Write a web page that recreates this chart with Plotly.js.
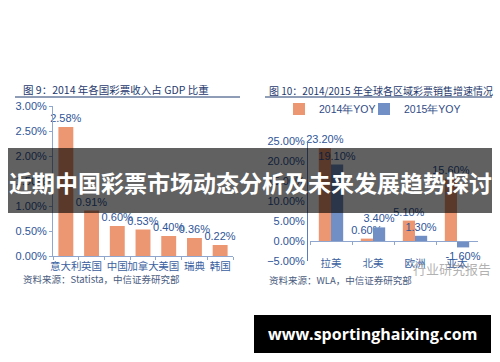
<!DOCTYPE html>
<html><head><meta charset="utf-8">
<script src="https://cdn.plot.ly/plotly-3.0.1.min.js"></script>
<style>html,body{margin:0;padding:0;background:#fff}#chart{width:500px;height:362px}</style>
</head><body><div id="chart"></div>
<script>
// Left chart data
const countries = ['意大利','英国','中国','加拿大','美国','瑞典','韩国'];
const gdpShare = [0.0258, 0.0091, 0.0060, 0.0053, 0.0040, 0.0036, 0.0022];
// Right chart data
const regions = ['拉美','北美','欧洲','亚太'];
const yoy2014 = [0.232, 0.006, 0.051, 0.156];
const yoy2015 = [0.191, 0.034, 0.013, -0.016];
const seriesNames = ['2014年YOY','2015年YOY'];
const leftYTicks = [0, 0.005, 0.01, 0.015, 0.02, 0.025, 0.03];
const rightYTicks = [-0.05, 0, 0.05, 0.10, 0.15, 0.20, 0.25];

const W = 500, H = 362;
const px = x => x / W;
const py = y => (H - y) / H;

const orange = '#EC9672';
const blue = '#718FC4';
const txtBlue = '#2F5597';
const navy = '#1F3A6E';
const cjk = '"Noto Sans CJK SC", "Liberation Sans", sans-serif';
const lat = '"Liberation Sans", Arial, sans-serif';

const labelFont = {family:lat, size:11, color:txtBlue};
const traces = [
  {type:'bar', x:countries, y:gdpShare, xaxis:'x', yaxis:'y', marker:{color:orange},
   texttemplate:'%{y:.2%}', textposition:'outside', cliponaxis:false, constraintext:'none',
   textfont:labelFont, showlegend:false, hoverinfo:'skip'},
  {type:'bar', name:seriesNames[0], x:regions, y:yoy2014, xaxis:'x2', yaxis:'y2', marker:{color:orange},
   texttemplate:'%{y:.2%}', textposition:'outside', cliponaxis:false, constraintext:'none', legend:'legend',
   textfont:labelFont, hoverinfo:'skip'},
  {type:'bar', name:seriesNames[1], x:regions, y:yoy2015, xaxis:'x2', yaxis:'y2', marker:{color:blue},
   texttemplate:'%{y:.2%}', textposition:'outside', cliponaxis:false, constraintext:'none', legend:'legend2',
   textfont:labelFont, hoverinfo:'skip'}
];

const ann = (text, x, y, opts) => Object.assign({text, x:px(x), y:py(y), xref:'paper', yref:'paper',
  showarrow:false, xanchor:'left', yanchor:'middle'}, opts || {});

const legendFont = {family:lat, size:10.5, color:'#2F4B85'};
const layout = {
  width: W, height: H,
  margin:{l:0, r:0, t:0, b:0, pad:0, autoexpand:false},
  paper_bgcolor:'#fff', plot_bgcolor:'rgba(0,0,0,0)',
  barmode:'group',
  bargap:0.42, bargroupgap:0,
  showlegend:true,
  legend:{orientation:'h', x:px(279), y:py(109), xanchor:'left', yanchor:'middle',
    font:legendFont, bgcolor:'rgba(0,0,0,0)', itemwidth:30},
  legend2:{orientation:'h', x:px(364), y:py(109), xanchor:'left', yanchor:'middle',
    font:legendFont, bgcolor:'rgba(0,0,0,0)', itemwidth:30},
  xaxis:{domain:[px(53), px(233)], anchor:'y', showline:true, linecolor:'#8FA6CF', linewidth:1,
    ticks:'outside', tickson:'boundaries', ticklen:3, tickcolor:'#8FA6CF', tickangle:0, automargin:false,
    tickfont:{family:cjk, size:10.5, color:'#3A5FA0'}},
  yaxis:{domain:[py(256), py(106)], anchor:'x', range:[0, 0.03], tickvals:leftYTicks, tickformat:'.2%', automargin:false,
    showline:true, linecolor:'#8FA6CF', ticks:'outside', ticklen:3, tickcolor:'#8FA6CF', showgrid:false, zeroline:false,
    tickfont:{family:lat, size:11, color:txtBlue}},
  xaxis2:{domain:[px(310), px(478)], anchor:'free', position:py(241), showline:true, linecolor:'#8FA6CF', automargin:false,
    ticks:'outside', tickson:'boundaries', ticklen:3, tickcolor:'#8FA6CF', ticklabelstandoff:12, tickangle:0,
    tickfont:{family:cjk, size:10.5, color:'#3A5FA0'}},
  yaxis2:{domain:[py(261), py(141)], anchor:'free', position:px(307), range:[-0.05, 0.25], tickvals:rightYTicks, tickformat:'.2%',
    showline:true, linecolor:'#5B7DB8', ticks:'', showgrid:false, zeroline:false, automargin:false,
    tickfont:{family:lat, size:11, color:txtBlue}},
  shapes:[
    {type:'line', xref:'paper', yref:'paper', x0:px(15), x1:px(240), y0:py(97), y1:py(97), line:{color:navy, width:1}},
    {type:'line', xref:'paper', yref:'paper', x0:px(265), x1:px(492), y0:py(97), y1:py(97), line:{color:navy, width:1}},
    {type:'rect', xref:'paper', yref:'paper', x0:px(8), x1:px(492), y0:py(148), y1:py(213), fillcolor:'rgba(0,0,0,0.62)', line:{width:0}, layer:'above'},
    {type:'rect', xref:'paper', yref:'paper', x0:px(254), x1:px(491), y0:py(315), y1:py(353), fillcolor:'#000', line:{width:0}, layer:'above'}
  ],
  annotations:[
    ann('图 9：2014 年各国彩票收入占 GDP 比重', 21, 89, {font:{family:cjk, size:10.5, color:navy}}),
    ann('图 10：2014/2015 年全球各区域彩票销售增速情况', 267, 90, {font:{family:cjk, size:10, color:navy}}),
    ann('资料来源：Statista，中信证券研究部', 21, 279, {font:{family:cjk, size:9.5, color:'#4A5C80'}}),
    ann('资料来源：WLA，中信证券研究部', 267, 280, {font:{family:cjk, size:9.5, color:'#4A5C80'}}),
    ann('行业研究报告', 411, 268, {font:{family:cjk, size:13, color:'rgba(110,110,110,0.55)'}}),
    ann('<b>近期中国彩票市场动态分析及未来发展趋势探讨</b>', 250, 182, {xanchor:'center', font:{family:cjk, size:23, color:'#fff'}}),
    ann('<b>www.sportinghaixing.com</b>', 372, 334, {xanchor:'center', font:{family:'"Open Sans", "Noto Sans", sans-serif', size:16, color:'#fff'}})
  ]
};

Plotly.newPlot('chart', traces, layout, {staticPlot:true, displayModeBar:false});
</script></body></html>
